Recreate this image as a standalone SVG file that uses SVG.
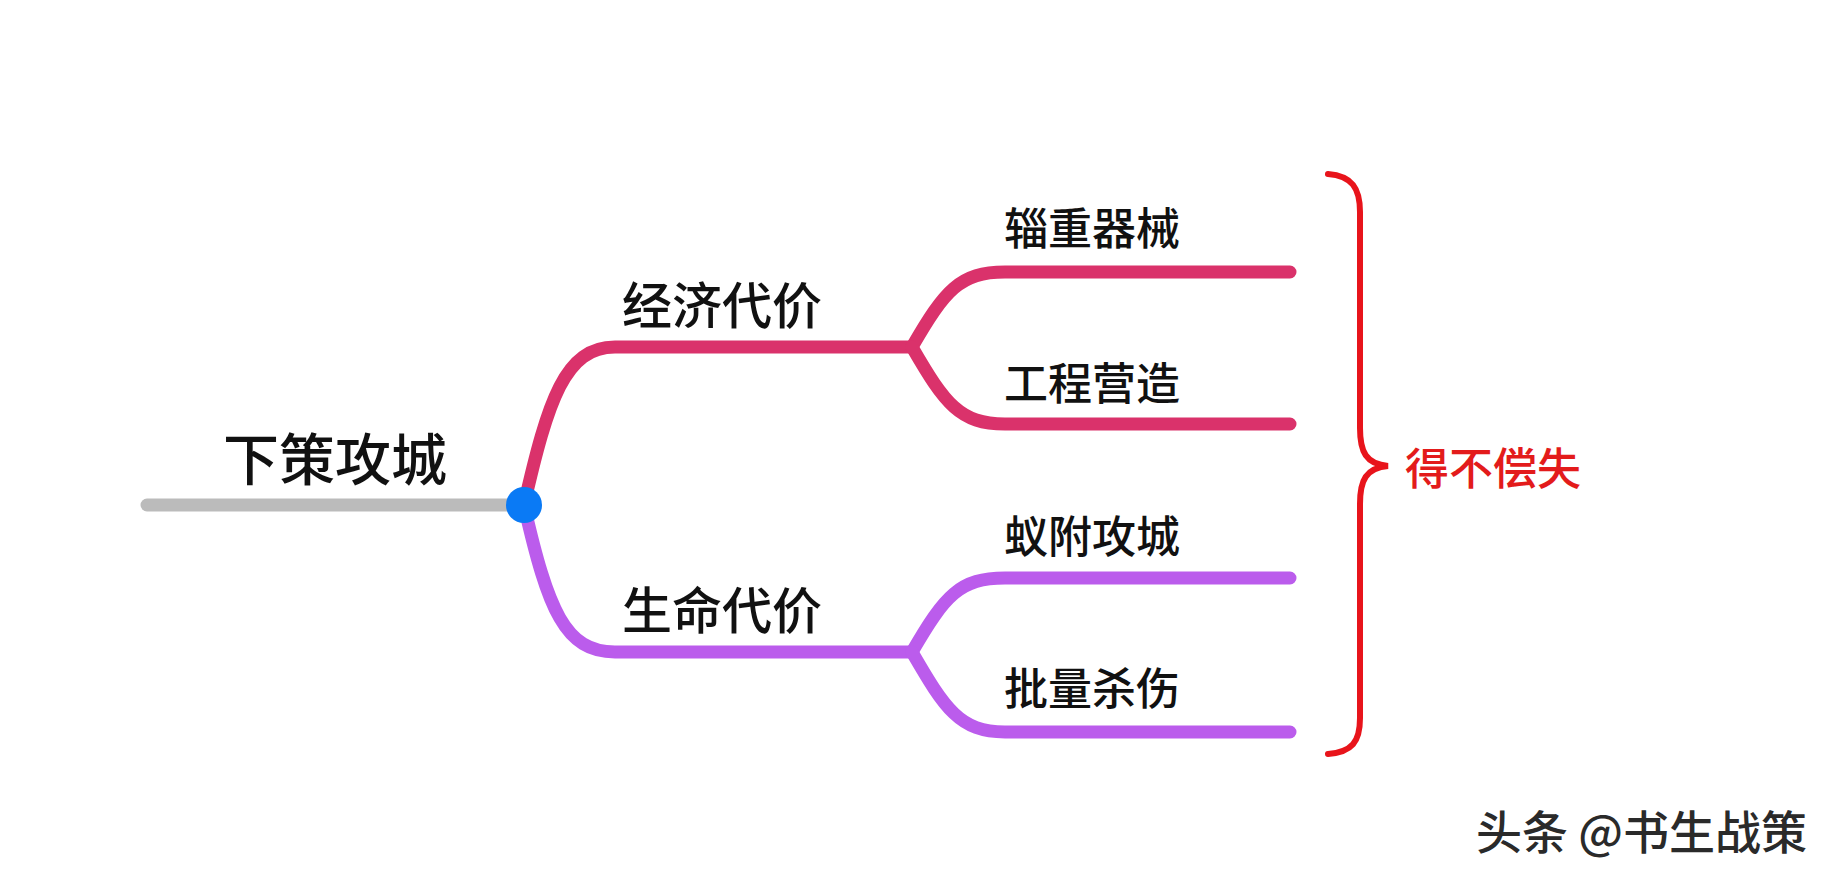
<svg xmlns="http://www.w3.org/2000/svg" width="1839" height="882" viewBox="0 0 1839 882">
<style>
.t{font-family:"Noto Sans CJK SC","Noto Sans",sans-serif;dominant-baseline:central;fill:#111;font-weight:500}
.br{fill:none;stroke-width:13;stroke-linecap:round;stroke-linejoin:round}
.red{stroke:#DA326B}
.pur{stroke:#BB5CEC}
</style>
<rect width="1839" height="882" fill="#fff"/>
<g id="connectors">
<path class="br" stroke="#BBBBBB" d="M147,505 H520"/>
<path class="br red" d="M524,505 C548,400 565,347 615,347 H912"/>
<path class="br red" d="M912,347 C945,290 960,272 1005,272 H1290"/>
<path class="br red" d="M912,347 C945,404 960,424 1005,424 H1290"/>
<path class="br pur" d="M524,505 C548,610 565,652 615,652 H912"/>
<path class="br pur" d="M912,652 C945,595 960,578 1005,578 H1290"/>
<path class="br pur" d="M912,652 C945,709 960,732 1005,732 H1290"/>
</g>
<g id="root"><circle cx="524" cy="505" r="18" fill="#0A7AF5"/><text class="t" x="223" y="455" font-size="56">下策攻城</text></g>
<g id="n-econ"><text class="t" x="622" y="302" font-size="50">经济代价</text></g>
<g id="n-life"><text class="t" x="622" y="607" font-size="50">生命代价</text></g>
<g id="n1"><text class="t" x="1004" y="226" font-size="44">辎重器械</text></g>
<g id="n2"><text class="t" x="1004" y="381" font-size="44">工程营造</text></g>
<g id="n3"><text class="t" x="1004" y="534" font-size="44">蚁附攻城</text></g>
<g id="n4"><text class="t" x="1004" y="686" font-size="44">批量杀伤</text></g>
<g id="summary">
<path d="M1328,174 C1352,176 1360,188 1360,212 V428 C1360,452 1366,464 1388,466 C1366,468 1360,480 1360,504 V718 C1360,742 1352,752 1328,754" fill="none" stroke="#E8141B" stroke-width="6" stroke-linecap="round"/>
<text class="t" x="1405" y="466" font-size="44" style="fill:#E31B1B">得不偿失</text>
</g>
<g id="watermark"><text class="t" x="1476" y="829" font-size="46" style="fill:#2a2a2a">头条 @书生战策</text></g>
</svg>
